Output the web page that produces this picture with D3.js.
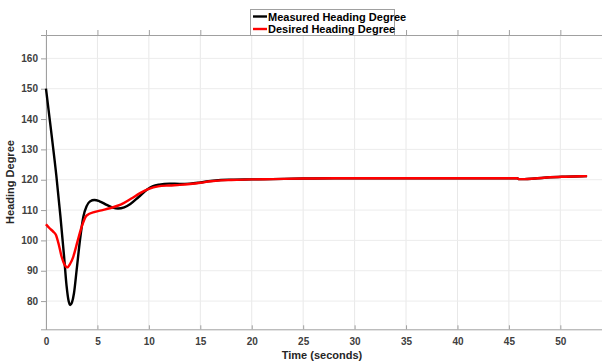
<!DOCTYPE html>
<html><head><meta charset="utf-8">
<script src="https://cdn.jsdelivr.net/npm/d3@7"></script>
<style>body{margin:0;background:#fff}svg{display:block}text{font-family:"Liberation Sans",Arial,sans-serif}</style>
</head><body><svg id="c" width="602" height="361"></svg>
<script>
const xTicks = [0,5,10,15,20,25,30,35,40,45,50];
const yTicks = [80,90,100,110,120,130,140,150,160];
const seriesNames = ["Measured Heading Degree","Desired Heading Degree"];
const seriesColors = ["#000000","#ff0000"];
const measuredT = [0,0.5,1.0,1.4,1.75,2.0,2.2,2.35,2.52,2.72,2.98,3.3,3.63,3.95,4.3,4.7,5.2,5.9,6.5,7.0,7.6,8.2,9,9.8,10.4,11,12,13,14,15,16,17,18,20,22,25,28,30,35,40,45,45.8,46,46.5,47.5,49,50.5,52.6];
const measuredV = [150,136,121.5,108,95,85,80,78.7,79.5,82.6,90.3,100,107.8,111.3,112.9,113.3,112.9,111.7,110.8,110.5,110.9,112,114.3,116.7,117.9,118.4,118.7,118.6,118.7,119.1,119.6,119.9,120,120.1,120.2,120.4,120.5,120.5,120.5,120.5,120.5,120.5,120.2,120.2,120.4,120.8,121,121.2];
const desiredT = [0,0.35,0.7,0.97,1.25,1.52,1.8,2.07,2.35,2.65,3.05,3.47,3.95,4.76,5.5,6.2,7.5,8.3,9.1,10,10.9,12,13,14,15,16,17,18,20,22,25,28,30,35,40,45,45.8,46,46.5,47.5,49,50.5,52.6];
const desiredV = [105.3,104,102.9,101.8,98.5,94.6,92,91.1,92.3,94.6,99.5,104.5,108.2,109.4,110,110.6,112.2,113.8,115.5,117,117.8,118.1,118.3,118.6,119,119.5,119.8,119.9,120.1,120.2,120.4,120.5,120.5,120.5,120.5,120.5,120.5,120.2,120.2,120.4,120.8,121,121.2];

const svg = d3.select("#c");
const L=46, R=602, T=35, B=329.3;
const x = d3.scaleLinear().domain([0,54.05]).range([L,R]);
const y = d3.scaleLinear().domain([70.7,167.7]).range([B,T]);

// grid
svg.append("g").selectAll("line").data(xTicks).join("line")
  .attr("x1",d=>x(d)).attr("x2",d=>x(d)).attr("y1",T).attr("y2",B)
  .attr("stroke","#e8e8e8").attr("stroke-width",1);
svg.append("g").selectAll("line").data(yTicks).join("line")
  .attr("x1",L).attr("x2",R).attr("y1",d=>y(d)).attr("y2",d=>y(d))
  .attr("stroke","#ececec").attr("stroke-width",1);

// axes
const gx = svg.append("g").attr("transform",`translate(0,${B})`)
  .call(d3.axisBottom(x).tickValues(xTicks).tickSize(-4).tickPadding(9).tickFormat(d3.format("d")));
const gxt = svg.append("g").attr("transform",`translate(0,${T})`)
  .call(d3.axisTop(x).tickValues(xTicks).tickSize(5).tickFormat(""));
const gy = svg.append("g").attr("transform",`translate(${L},0)`)
  .call(d3.axisLeft(y).tickValues(yTicks).tickSize(5).tickPadding(3).tickFormat(d3.format("d")));
[gx,gxt,gy].forEach(g=>{
  g.select(".domain").attr("stroke","#a0a0a0");
  g.selectAll(".tick line").attr("stroke","#a0a0a0");
  g.selectAll(".tick text").attr("fill","#404040").attr("font-size","10px").attr("font-weight","bold")
   .attr("font-family","'Liberation Sans',Arial,sans-serif");
});
gx.selectAll(".tick text").attr("dy","0.71em");

// lines
const line = d3.line().x(d=>x(d[0])).y(d=>y(d[1])).curve(d3.curveMonotoneX);
const data = [d3.zip(measuredT,measuredV), d3.zip(desiredT,desiredV)];
svg.append("g").selectAll("path").data(data).join("path")
  .attr("d",line).attr("fill","none")
  .attr("stroke",(d,i)=>seriesColors[i]).attr("stroke-width",2.4)
  .attr("stroke-linejoin","round");

// labels
svg.append("text").attr("x",322).attr("y",359).attr("text-anchor","middle")
  .attr("font-size","11px").attr("font-weight","bold").attr("fill","#262626").text("Time (seconds)");
svg.append("text").attr("transform","translate(14,182) rotate(-90)").attr("text-anchor","middle")
  .attr("font-size","11px").attr("font-weight","bold").attr("fill","#262626").text("Heading Degree");

// legend
const lg = svg.append("g");
lg.append("rect").attr("x",250.5).attr("y",9.5).attr("width",144).attr("height",26)
  .attr("fill","#fff").attr("stroke","#a0a0a0");
seriesNames.forEach((n,i)=>{
  const yy = 16.5 + i*12.5;
  lg.append("line").attr("x1",253).attr("x2",267).attr("y1",yy).attr("y2",yy)
    .attr("stroke",seriesColors[i]).attr("stroke-width",2.4);
  lg.append("text").attr("x",268).attr("y",yy+4).attr("font-size","11px").attr("font-weight","bold")
    .attr("fill","#000").text(n);
});
</script></body></html>
